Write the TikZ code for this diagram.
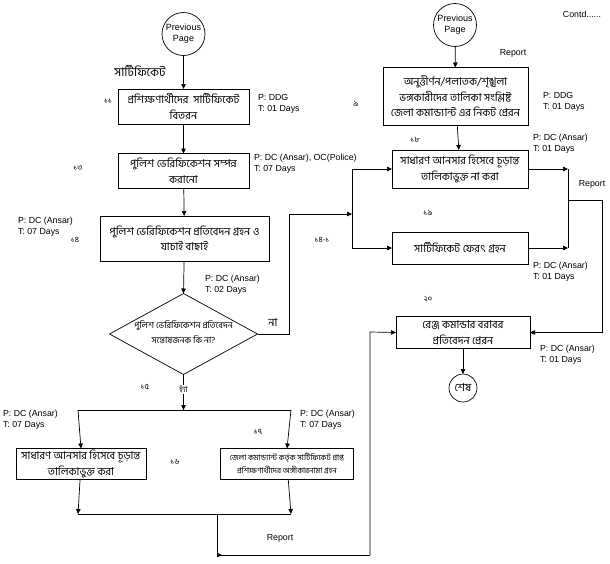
\documentclass[tikz,border=0pt]{standalone}
\usepackage{fontspec}
\setmainfont{Liberation Sans}
\newfontfamily\bn[Script=Bengali]{Hind Siliguri}
\usetikzlibrary{arrows.meta,shapes.geometric}
\begin{document}
\begin{tikzpicture}[x=1pt,y=-1pt,
  every node/.style={inner sep=0pt,outer sep=0pt},
  box/.style={draw,line width=0.8pt,align=center,font=\bn\fontsize{10.8}{15.5}\selectfont},
  circ/.style={draw,circle,line width=0.7pt,align=center,font=\fontsize{9}{11}\selectfont},
  dia/.style={draw,diamond,line width=0.7pt,aspect=1.84,minimum width=148pt,minimum height=81pt},
  lab/.style={align=left,anchor=west,font=\fontsize{8.8}{11}\selectfont},
  num/.style={font=\bn\fontsize{8}{10}\selectfont},
  bt/.style={font=\bn\fontsize{11}{13}\selectfont},
  rep/.style={font=\fontsize{8.8}{11}\selectfont},
  arr/.style={line width=0.7pt,-{Triangle[length=5pt,width=4.5pt]}},
  ln/.style={line width=0.7pt}]
\useasboundingbox (0,0) rectangle (610,563);
\fill[white] (0,0) rectangle (610,563);
% left column
\node[circ,minimum size=43pt] (pp1) at (183.5,34) {Previous\\Page};
\node[bt,font=\bn\fontsize{12}{14}\selectfont] (sc) at (140,71) {সার্টিফিকেট};
\node[box,minimum width=131pt,minimum height=35pt] (b11) at (183.5,106.5) {প্রশিক্ষণার্থীদের\ \ সার্টিফিকেট\\বিতরন};
\node[num] (n11) at (108,101) {১১};
\node[lab] (l11) at (258,104) {P: DDG\\T: 01 Days};
\node[box,minimum width=131pt,minimum height=35pt] (b13) at (183.5,171) {পুলিশ ভেরিফিকেশন সম্পন্ন\\করানো};
\node[num] (n13) at (78,168) {১৩};
\node[lab] (l13) at (254,164) {P: DC (Ansar), OC(Police)\\T: 07 Days};
\node[box,minimum width=169pt,minimum height=45pt] (b14) at (184.5,238.5) {পুলিশ ভেরিফিকেশন প্রতিবেদন গ্রহন ও\\যাচাই বাছাই};
\node[lab] (l14) at (18,227) {P: DC (Ansar)\\T: 07 Days};
\node[num] (n14) at (75,240) {১৪};
\node[dia] (d) at (183.5,334) {};
\node[align=center,font=\bn\fontsize{8.8}{15}\selectfont] (dt) at (183.5,332) {পুলিশ ভেরিফিকেশন প্রতিবেদন\\সন্তোষজনক কি না?};
\node[lab] (ld) at (205,285) {P: DC (Ansar)\\T: 02 Days};
\node[bt] (na) at (273,322) {না};
\node[num] (n141) at (322,240) {১৪-১};
\node[num] (n15) at (145,387) {১৫};
\coordinate (jb) at (183.5,410);
\coordinate (jbl) at (78,410);
\coordinate (jbr) at (291,410);
\node[box,minimum width=130pt,minimum height=31pt] (b16) at (81,464) {সাধারণ আনসার হিসেবে চূড়ান্ত\\তালিকাভুক্ত করা};
\node[lab] (l16) at (3,420) {P: DC (Ansar)\\T: 07 Days};
\node[num] (n16) at (175,462) {১৬};
\node[box,minimum width=133pt,minimum height=31pt,font=\bn\fontsize{7.8}{13}\selectfont] (b17) at (287,464) {জেলা কমান্ড্যান্ট কর্তৃক সার্টিফিকেট প্রাপ্ত\\প্রশিক্ষণার্থীদের অঙ্গীকারনামা গ্রহন};
\node[num] (n17) at (258,432) {১৭};
\node[lab] (l17) at (300,420) {P: DC (Ansar)\\T: 07 Days};
\coordinate (k16) at (78,514);
\coordinate (k17) at (291,514);
\coordinate (kb) at (217,514);
\coordinate (c1) at (217,555);
\coordinate (c1a) at (222,555);
\coordinate (c2) at (370,555);
\coordinate (c3) at (370,332);
\node[rep] (rep1) at (280,538) {Report};
% right column
\node[circ,minimum size=43pt] (pp2) at (455,25) {Previous\\Page};
\node[rep] (contd) at (582,14) {Contd......};
\node[rep] (rep2) at (513,53) {Report};
\node[box,minimum width=145pt,minimum height=58pt] (b9) at (455.5,96.5) {অনুত্তীর্ণন/পলাতক/শৃঙ্খলা\\ভঙ্গকারীদের তালিকা সংশ্লিষ্ট\\জেলা কমান্ড্যান্ট এর নিকট প্রেরন};
\node[num] (n9) at (356,104) {৯};
\node[lab] (l9) at (543,102) {P: DDG\\T: 01 Days};
\node[box,minimum width=136pt,minimum height=38pt] (b18) at (460,169) {সাধারণ আনসার হিসেবে চূড়ান্ত\\তালিকাভুক্ত না করা};
\node[num] (n18) at (415,140) {১৮};
\node[lab] (l18) at (533,144) {P: DC (Ansar)\\T: 01 Days};
\node[box,minimum width=136pt,minimum height=32pt] (b19) at (460,248) {সার্টিফিকেট ফেরৎ গ্রহন};
\node[num] (n19) at (428,213) {১৯};
\node[lab] (l19) at (533,272) {P: DC (Ansar)\\T: 01 Days};
\node[rep] (rep3) at (592,184) {Report};
\node[box,minimum width=134pt,minimum height=32pt] (b20) at (463,332.5) {রেঞ্জ কমান্ডার বরাবর\\প্রতিবেদন প্রেরন};
\node[num] (n20) at (428,299) {২০};
\node[lab] (l20) at (540,355) {P: DC (Ansar)\\T: 01 Days};
\node[circ,minimum size=28pt,font=\bn\fontsize{11}{12}\selectfont] (end) at (463,388) {শেষ};
\coordinate (dr) at (289,334);
\coordinate (j1) at (352,214);
\coordinate (j2a) at (568,169);
\coordinate (j2b) at (568,248);
\coordinate (j2m) at (568,200);
\coordinate (r1) at (602,200);
\coordinate (r2) at (602,332.5);
% connectors
\draw[arr] (pp1) -- (b11);
\draw[arr] (b11) -- (b13);
\draw[arr] (b13) -- (b14);
\draw[arr] (b14) -- (d.north);
\draw[arr] (d.east) -- (dr) |- (j1);
\draw[arr] (j1) |- (b18.west);
\draw[arr] (j1) |- (b19.west);
\draw[ln] (d.south) -- (jb);
\draw[arr] (jb) ++(0,-8) -- (jb);
\draw[ln] (jbl) -- (jbr);
\draw[arr] (jbl) -- (b16.north);
\draw[arr] (jbr) -- (b17.north);
\node[fill=white,inner sep=1pt,font=\bn\fontsize{8}{9}\selectfont] (ha) at (183.5,389) {হ্যাঁ};
\draw[arr] (b16) -- (k16);
\draw[arr] (b17) -- (k17);
\draw[ln] (k16) -- (k17);
\draw[arr] (kb) |- (c1a);
\draw[ln] (c1) -- (c2);
\draw[arr] (c2) -- (c3) -- (b20.west);
\draw[arr] (pp2) -- (b9);
\draw[arr] (b9) -- (b18);
\draw[arr] (b18.east) -- (j2a);
\draw[arr] (b19.east) -- (j2b);
\draw[ln] (j2a) -- (j2b);
\draw[arr] (j2m) -- (r1) -- (r2) -- (b20.east);
\draw[arr] (b20) -- (end);
\end{tikzpicture}
\end{document}
